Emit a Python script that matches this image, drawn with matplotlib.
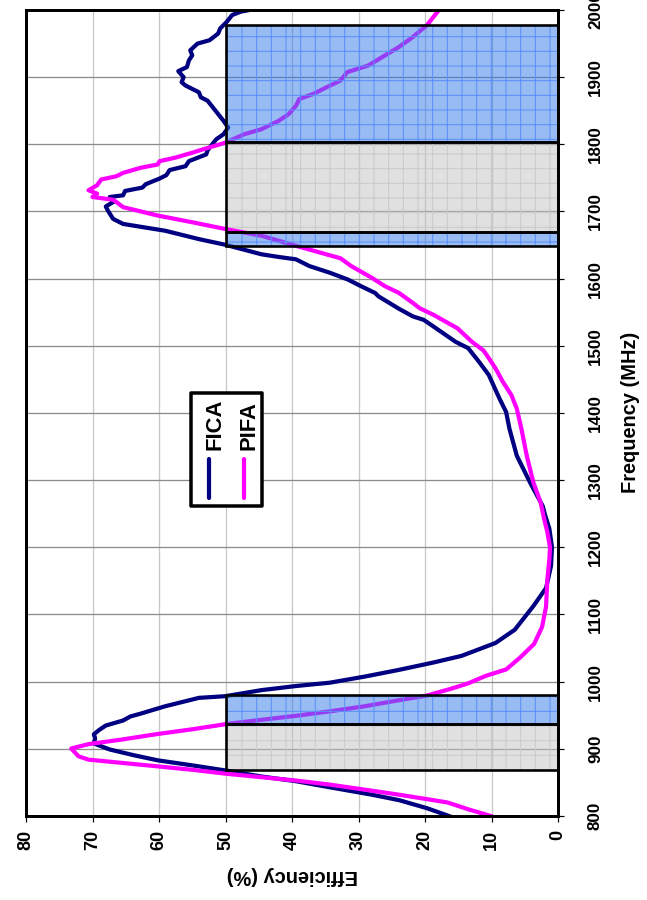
import matplotlib
matplotlib.use("Agg")
import matplotlib.pyplot as plt
from matplotlib.patches import Rectangle

DPI = 88
W, H = 647, 900


def pt(px):
    """Convert a size in output pixels to points."""
    return px * 72 / DPI


plt.rcParams["font.family"] = ["Liberation Sans", "DejaVu Sans"]
plt.rcParams["font.weight"] = "bold"
plt.rcParams["hatch.linewidth"] = pt(1.0)

# ---- measured efficiency curves -------------------------------------------
fica_freq = [800, 811.6, 823.6, 831.7, 842.7, 851.8, 858.8, 867.8, 875.4, 882.9,
             890.5, 899.0, 908.0, 915.6, 921.6, 928.1, 934.7, 942.2, 948.2, 952.3,
             963.3, 975.9, 978.4, 987.4, 993.5, 998.5, 1007.5, 1017.6, 1028.6, 1038.4,
             1057.6, 1077.3, 1112.6, 1139.4, 1172.2, 1200, 1227.8, 1250, 1261.5, 1296.5,
             1336.5, 1376.5, 1401.5, 1421.5, 1456.5, 1476.5, 1496.5, 1506, 1528.6, 1538.7,
             1543.7, 1555.1, 1573.7, 1578.7, 1588.7, 1598.7, 1608.8, 1618.8, 1628.8, 1632.3,
             1636.3, 1650.4, 1658.9, 1671.4, 1678.9, 1681.5, 1689.0, 1701.5, 1707.5, 1714,
             1721.6, 1724.1, 1730.6, 1735.6, 1740.6, 1749.1, 1754.1, 1761.7, 1767.5, 1775,
             1785, 1791, 1807.5, 1815, 1825, 1835, 1842.5, 1855, 1865, 1870,
             1877.5, 1887.5, 1892.5, 1900, 1909, 1915, 1925, 1932.5, 1940, 1950,
             1955, 1965, 1972.5, 1982.5, 1992.5, 1997.5, 2000]
fica_eff = [16.4, 19.7, 23.9, 28.0, 34.3, 39.4, 44.6, 50.0, 55.0, 60.2,
            63.8, 67.4, 69.8, 69.6, 69.8, 69.0, 68.0, 65.4, 64.3, 62.8,
            59.1, 54.0, 50.0, 44.6, 39.4, 34.3, 29.1, 23.9, 18.7, 14.5,
            9.4, 6.5, 3.7, 1.8, 1.05, 0.9, 1.3, 2.0, 2.3, 4.2,
            6.2, 7.3, 7.8, 8.8, 10.4, 11.9, 13.5, 15.4, 18.7, 20.2,
            21.8, 23.9, 27.0, 27.5, 29.6, 31.6, 34.3, 37.4, 39.4, 42.0,
            44.6, 50.0, 54.0, 59.1, 63.8, 65.4, 66.9, 67.7, 68.0, 66.9,
            67.4, 65.4, 65.1, 62.5, 62.0, 59.9, 58.9, 58.4, 56.0, 55.5,
            52.9, 52.7, 51.4, 50.3, 49.6, 50.3, 50.9, 51.9, 52.7, 53.7,
            54.0, 56.0, 56.6, 56.3, 57.1, 55.8, 55.5, 55.0, 55.3, 54.2,
            52.4, 51.1, 50.8, 49.8, 49.0, 47.7, 46.4]

pifa_freq = [800, 810, 820.1, 825.1, 831.7, 837.7, 846.7, 852.8, 857.8, 862.8,
             868.8, 873.9, 878.9, 883.9, 888.9, 900.5, 907, 914.1, 922.1, 929.1,
             936.7, 943.2, 949.2, 955.8, 963.3, 972.4, 979.4, 989.4, 997.5, 1008.5,
             1018.2, 1035.9, 1056.1, 1081.3, 1111.6, 1152, 1182.3, 1200, 1222.7, 1242.9,
             1266.5, 1296.5, 1336.5, 1376.5, 1406.5, 1426.5, 1446.5, 1466.5, 1481.5, 1493,
             1506.5, 1526, 1546, 1556, 1563.7, 1578.7, 1588.7, 1601.3, 1618.8, 1630.3,
             1648.9, 1663.9, 1673.9, 1684, 1694, 1706.5, 1714, 1717.5, 1721.6, 1726.6,
             1731.6, 1739.1, 1747.6, 1752.5, 1757.5, 1765, 1770, 1775, 1780, 1787.5,
             1792.5, 1802.5, 1815, 1822.5, 1835, 1845, 1857.5, 1867.5, 1875, 1885,
             1895, 1907.5, 1917.5, 1932.5, 1945, 1960, 1977.5, 1990, 2000]
pifa_eff = [10.1, 13.5, 16.6, 19.7, 23.9, 28.0, 34.3, 39.4, 44.6, 49.8,
            55.0, 60.2, 65.4, 70.6, 72.1, 73.2, 70.6, 65.4, 60.2, 55.0,
            50.0, 44.6, 39.4, 34.3, 29.1, 23.9, 19.7, 16.1, 13.5, 10.9,
            7.8, 5.7, 3.6, 2.4, 1.8, 1.6, 1.3, 1.2, 1.6, 2.1,
            2.6, 3.7, 4.7, 5.5, 6.2, 7.0, 8.3, 9.4, 10.4, 11.2,
            13.0, 15.1, 18.7, 20.8, 21.8, 23.9, 26.0, 28.0, 31.1, 32.7,
            39.4, 44.6, 50.0, 55.0, 60.2, 65.4, 66.4, 66.9, 70.0, 69.3,
            70.6, 69.3, 68.7, 66.4, 65.4, 62.8, 60.2, 59.9, 57.6, 55.0,
            53.4, 50.0, 47.2, 44.6, 42.0, 40.5, 39.4, 38.9, 36.8, 34.8,
            32.7, 31.7, 28.5, 26.0, 23.9, 21.8, 19.7, 18.7, 17.9]

series_names = ["FICA", "PIFA"]
series_colors = ["#000080", "#ff00ff"]

# frequency bands (MHz) shaded up to the 50 % efficiency target
target_eff = 50
gray_bands = [(868, 937), (1670, 1803)]
blue_bands = [(937, 980), (1648, 1670), (1803, 1978)]

freq_ticks = list(range(800, 2001, 100))
eff_ticks = list(range(0, 81, 10))

# ---- figure ---------------------------------------------------------------
fig = plt.figure(figsize=(W / DPI, H / DPI), dpi=DPI)
fig.patch.set_facecolor("white")
ax = fig.add_axes([26 / W, 1 - 816 / H, 532 / W, 806 / H])
ax.set_xlim(80, 0)
ax.set_ylim(800, 2000)

# grid
ax.set_xticks(eff_ticks)
ax.set_yticks(freq_ticks)
ax.xaxis.grid(True, color="#c8c8c8", lw=pt(1.3), zorder=0)
ax.yaxis.grid(True, color="#8c8c8c", lw=pt(1.3), zorder=0)
ax.set_axisbelow(True)

# gray bands (under the curves)
for f0, f1 in gray_bands:
    ax.add_patch(Rectangle((0, f0), target_eff, f1 - f0, facecolor=(0.76, 0.76, 0.76, 0.5),
                           edgecolor="none", zorder=1))
    ax.add_patch(Rectangle((0, f0), target_eff, f1 - f0, facecolor="none",
                           edgecolor="#cacaca", lw=0, hatch="+", zorder=1.1))

# curves
for fr, ef, col in zip([fica_freq, pifa_freq], [fica_eff, pifa_eff], series_colors):
    ax.plot(ef, fr, color=col, lw=pt(4.2), solid_joinstyle="round", zorder=2)

# blue bands (translucent, over the curves)
for f0, f1 in blue_bands:
    ax.add_patch(Rectangle((0, f0), target_eff, f1 - f0, facecolor=(0.2, 0.47, 0.92, 0.5),
                           edgecolor="none", zorder=3))
    ax.add_patch(Rectangle((0, f0), target_eff, f1 - f0, facecolor="none",
                           edgecolor="#5a90f6", lw=0, hatch="+", zorder=3.1))

for f0, f1 in gray_bands + blue_bands:
    ax.add_patch(Rectangle((0, f0), target_eff, f1 - f0, facecolor="none",
                           edgecolor="black", lw=pt(2.6), zorder=3.5))

# spines and ticks
for sp in ax.spines.values():
    sp.set_linewidth(pt(3))
    sp.set_color("black")
    sp.set_zorder(6)

ax.yaxis.tick_right()
ax.tick_params(axis="y", direction="out", length=pt(6), width=pt(1.2), pad=pt(24),
               labelsize=pt(17), labelrotation=90)
for lab in ax.get_yticklabels():
    lab.set_va("center")
    lab.set_fontweight("bold")
ax.tick_params(axis="x", direction="out", length=pt(6), width=pt(1.2), pad=pt(8),
               labelsize=pt(18), labelrotation=90)
for lab in ax.get_xticklabels():
    lab.set_fontweight("bold")

fig.text(630 / W, 1 - 412 / H, "Frequency (MHz)", rotation=90, ha="center", va="center",
         fontsize=pt(20), fontweight="bold")
fig.text(292 / W, 1 - 876 / H, "Efficiency (%)", rotation=180, ha="center", va="center",
         fontsize=pt(20), fontweight="bold")

# legend (rotated with the rest of the chart)
ax.add_patch(Rectangle((0.310, 0.385), 0.133, 0.140, transform=ax.transAxes,
                       facecolor="white", edgecolor="black", lw=pt(3.5),
                       joinstyle="round", zorder=7))
line_x = [0.344, 0.409]
text_x = [0.365, 0.4297]
for name, col, lx, tx in zip(series_names, series_colors, line_x, text_x):
    ax.plot([lx, lx], [0.3946, 0.443], transform=ax.transAxes, color=col, lw=pt(4.2),
            solid_capstyle="round", zorder=8, clip_on=False)
    ax.text(tx, 0.4536, name, transform=ax.transAxes, rotation=90, rotation_mode="anchor",
            ha="left", va="baseline", fontsize=pt(22), fontweight="bold", zorder=8)

fig.savefig("out.png", dpi=DPI)
